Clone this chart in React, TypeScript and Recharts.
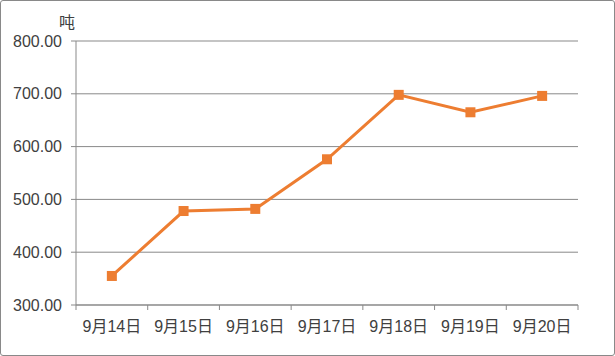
import React from "react";
import { LineChart, Line, XAxis, YAxis, CartesianGrid } from "recharts";

const categories = ["9月14日", "9月15日", "9月16日", "9月17日", "9月18日", "9月19日", "9月20日"];
const values = [355, 478, 482, 576, 698, 665, 696];
const yTicks = [300, 400, 500, 600, 700, 800];
const unitLabel = "吨";

const data = categories.map((c, i) => ({ name: c, value: values[i] }));

const FONT = '"Liberation Sans", "Noto Sans CJK SC", Arial, sans-serif';
const GRAY = "#898989";
const ORANGE = "#ED7D31";

const XTick = (props: any) => {
  const { x, y, payload, index, visibleTicksCount } = props;
  const off = payload?.offset ?? 0;
  const top = 305;
  return (
    <g>
      <line x1={x - off} x2={x - off} y1={top} y2={top + 5} stroke={GRAY} strokeWidth={1} />
      {index === visibleTicksCount - 1 && (
        <line x1={x + off} x2={x + off} y1={top} y2={top + 5} stroke={GRAY} strokeWidth={1} />
      )}
      <text x={x} y={y + 19} textAnchor="middle" fill="#404040" fontSize={16} fontFamily={FONT}>
        {payload.value}
      </text>
    </g>
  );
};

const SquareDot = (props: any) => {
  const { cx, cy } = props;
  if (cx == null || cy == null) return null;
  return <rect x={cx - 5} y={cy - 5} width={10} height={10} fill={ORANGE} />;
};

export default function App() {
  return (
    <div
      style={{
        position: "absolute",
        left: 0,
        top: 0,
        width: 615,
        height: 356,
        background: "#fff",
      }}
    >
      <div
        style={{
          position: "absolute",
          left: 0,
          top: 0,
          width: 613,
          height: 354,
          border: `1px solid ${GRAY}`,
          borderRadius: 3,
        }}
      />
      <LineChart
        width={615}
        height={356}
        data={data}
        margin={{ top: 41, right: 37, bottom: 0, left: 10 }}
      >
        <text x={67} y={28} textAnchor="middle" fontSize={16} fill="#404040" fontFamily={FONT}>
          {unitLabel}
        </text>
        <CartesianGrid vertical={false} stroke={GRAY} strokeWidth={1} />
        <XAxis
          dataKey="name"
          scale="band"
          height={51}
          axisLine={{ stroke: GRAY }}
          tickLine={false}
          tick={<XTick />}
          interval={0}
        />
        <YAxis
          width={66}
          domain={[300, 800]}
          ticks={yTicks}
          tickFormatter={(v: number) => v.toFixed(2)}
          axisLine={{ stroke: GRAY }}
          tickLine={{ stroke: GRAY }}
          tickSize={5}
          tickMargin={9}
          tick={{ fill: "#404040", fontSize: 16, fontFamily: FONT }}
        />
        <Line
          type="linear"
          dataKey="value"
          stroke={ORANGE}
          strokeWidth={3}
          dot={<SquareDot />}
          activeDot={false}
          isAnimationActive={false}
        />
      </LineChart>
    </div>
  );
}
